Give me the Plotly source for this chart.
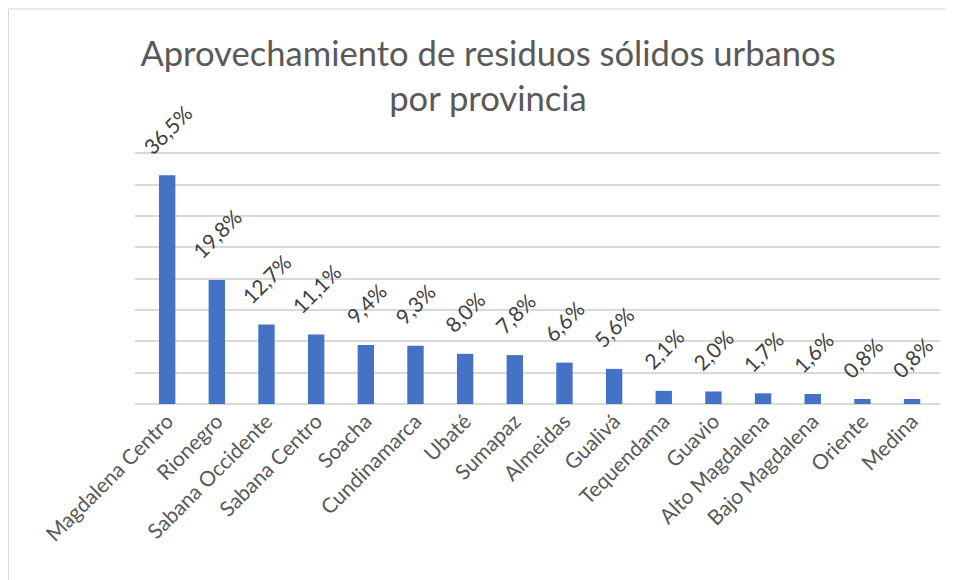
import plotly.graph_objects as go

provinces = ["Magdalena Centro", "Rionegro", "Sabana Occidente", "Sabana Centro", "Soacha",
             "Cundinamarca", "Ubaté", "Sumapaz", "Almeidas", "Gualivá", "Tequendama",
             "Guavio", "Alto Magdalena", "Bajo Magdalena", "Oriente", "Medina"]
values = [36.5, 19.8, 12.7, 11.1, 9.4, 9.3, 8.0, 7.8, 6.6, 5.6, 2.1, 2.0, 1.7, 1.6, 0.8, 0.8]
labels = [f"{v:.1f}%".replace(".", ",") for v in values]

W, H = 954, 580
OFF = 8  # page body margin
YMAX = 41.0
SCALE = (404 - 153) / 40.0  # px per percentage point
L, R, B = 135 - OFF, 940 - OFF, 404 - OFF
T = B - YMAX * SCALE

fig = go.Figure(go.Bar(x=provinces, y=values, marker=dict(color="#4472C4", line=dict(width=0)),
                       hoverinfo="skip"))

annotations = []
for p, v, t in zip(provinces, values, labels):
    annotations.append(dict(x=p, y=v, text=t, showarrow=False, textangle=-45,
                            xanchor="center", yanchor="bottom", yshift=14,
                            font=dict(family="Lato", size=21, color="#404040")))

def px_x(px):
    return (px - L) / (R - L)

def px_y(py):
    return (B - py) / (B - T)

fig.update_layout(
    width=W, height=H,
    margin=dict(l=L, r=W - R, t=T, b=H - B, pad=0, autoexpand=False),
    paper_bgcolor="white", plot_bgcolor="white",
    title=dict(text="Aprovechamiento de residuos sólidos urbanos<br>por provincia",
               x=(488 - OFF) / W, xanchor="center", y=1 - 58 / H, yanchor="top",
               font=dict(family="Lato", size=34.6, color="#595959"), automargin=False),
    bargap=0.67,
    showlegend=False,
    annotations=annotations,
    shapes=[dict(type="rect", xref="paper", yref="paper",
                 x0=px_x(0.5), x1=px_x(1000), y0=px_y(700), y1=px_y(0.5),
                 line=dict(color="#d9d9d9", width=1), fillcolor="rgba(0,0,0,0)", layer="below")],
    xaxis=dict(tickangle=-45, tickfont=dict(family="Lato", size=21, color="#595959"),
               showgrid=False, showline=False, ticks="", zeroline=False, automargin=False),
    yaxis=dict(range=[0, YMAX], tickvals=[5, 10, 15, 20, 25, 30, 35, 40], showticklabels=False,
               showgrid=True, gridcolor="#d9d9d9", gridwidth=1.5, zeroline=True,
               zerolinecolor="#d9d9d9", zerolinewidth=1.5, showline=False, ticks="",
               automargin=False),
)

fig.write_html("out.html")
